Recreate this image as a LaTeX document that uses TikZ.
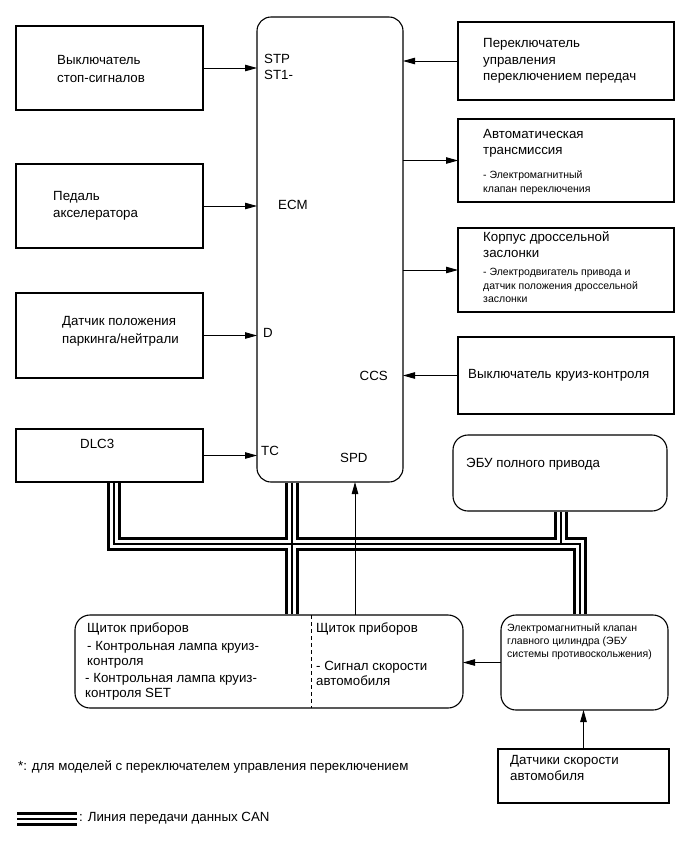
\documentclass[tikz,border=0pt]{standalone}
\usepackage{fontspec}
\setmainfont{Liberation Sans}
\usetikzlibrary{arrows.meta}
\newcommand\canpaths[1]{%
  \draw[#1] ([yshift=-0.6pt]dlc.south -| j1) -- (j1) -- (j4) -- ([yshift=0.6pt]j4 |- brake.north);
  \draw[#1] ([yshift=-0.6pt]ecm.south -| j2) -- ([yshift=0.6pt]j2 |- inst.north);
  \draw[#1] ([yshift=-0.6pt]ecu.south -| j3) -- (j3);
}
\tikzset{
  box/.style={draw, line width=1.1pt, inner sep=0pt, outer sep=0pt, anchor=north west},
  rbox/.style={box, rounded corners=15pt},
  txt/.style={inner sep=0pt, anchor=mid west, font=\fontsize{13.3}{16}\selectfont},
  stxt/.style={inner sep=0pt, anchor=mid west, font=\fontsize{10.5}{13}\selectfont},
  arr/.style={line width=0.9pt, -{Triangle[length=12pt,width=6.5pt]}},
  canblack/.style={line width=14pt, black, line join=miter},
  canwhite/.style={line width=7.5pt, white, line join=miter},
  canthin/.style={line width=1.2pt, black, line join=miter},
}
\begin{document}
\begin{tikzpicture}[x=1pt,y=-1pt]
\useasboundingbox (0,0) rectangle (690,855);
% boxes
\node[box, minimum width=187pt, minimum height=84pt] (n1) at (16,26) {};
\node[box, minimum width=187pt, minimum height=84pt] (n2) at (16,164) {};
\node[box, minimum width=187pt, minimum height=85pt] (n3) at (16,293) {};
\node[box, minimum width=187pt, minimum height=53pt] (dlc) at (16,429) {};
\node[box, rounded corners=14pt, minimum width=146pt, minimum height=465pt] (ecm) at (257,17) {};
\node[box, minimum width=216pt, minimum height=78pt] (ba) at (458,22) {};
\node[box, minimum width=216pt, minimum height=83pt] (bb) at (458,119) {};
\node[box, minimum width=216pt, minimum height=84pt] (bc) at (458,228) {};
\node[box, minimum width=216pt, minimum height=77pt] (bd) at (458,337) {};
\node[rbox, minimum width=214pt, minimum height=76pt] (ecu) at (453,435) {};
\node[rbox, minimum width=388pt, minimum height=93pt] (inst) at (75,615) {};
\node[rbox, minimum width=167pt, minimum height=95pt] (brake) at (501,615) {};
\node[box, minimum width=171pt, minimum height=54pt] (speed) at (498,749) {};
% coordinates
\coordinate (j1) at (114,544);
\coordinate (j2) at (292,544);
\coordinate (j3) at (561,544);
\coordinate (j4) at (580,544);
\coordinate (spdx) at (355,0);
\coordinate (divx) at (311,0);
\coordinate (lg1) at (17,819);
\coordinate (lg2) at (77,819);
% divider
\draw[line width=1pt, dash pattern=on 4pt off 3pt] (inst.north -| divx) -- (inst.south -| divx);
% CAN bus
\canpaths{canblack}
\canpaths{canwhite}
\canpaths{canthin}
\draw[canblack] (lg1) -- (lg2);
\draw[canwhite] (lg1) -- (lg2);
\draw[canthin] (lg1) -- (lg2);
% arrows
\draw[arr] (n1.east) -- (n1.east -| ecm.west);
\draw[arr] (n2.east) -- (n2.east -| ecm.west);
\draw[arr] (n3.east) -- (n3.east -| ecm.west);
\draw[arr] (dlc.east) -- (dlc.east -| ecm.west);
\draw[arr] (ba.west) -- (ba.west -| ecm.east);
\draw[arr] (bb.west -| ecm.east) -- (bb.west);
\draw[arr] (bc.west -| ecm.east) -- (bc.west);
\draw[arr] (bd.west) -- (bd.west -| ecm.east);
\draw[arr] (spdx |- inst.north) -- (spdx |- ecm.south);
\draw[arr] (brake.west) -- (brake.west -| inst.east);
\draw[arr] (speed.north) -- (speed.north |- brake.south);
% texts left
\node[txt] (t1a) at (57,62) {Выключатель};
\node[txt] (t1b) at (57,80) {стоп-сигналов};
\node[txt] (t2a) at (53,198) {Педаль};
\node[txt] (t2b) at (53,215) {акселератора};
\node[txt] (t3a) at (62,323) {Датчик положения};
\node[txt] (t3b) at (62,341) {паркинга/нейтрали};
\node[txt] (tdlc) at (80,446) {DLC3};
% ECM labels
\node[txt] (lstp) at (264,61) {STP};
\node[txt] (lst1) at (264,77) {ST1-};
\node[txt] (lecm) at (278,207) {ECM};
\node[txt] (ld) at (263,335) {D};
\node[txt] (ltc) at (261,453) {TC};
\node[txt] (lspd) at (340,460) {SPD};
\node[txt, anchor=mid east] (lccs) at (388,378) {CCS};
% right texts
\node[txt] (tAa) at (483,45) {Переключатель};
\node[txt] (tAb) at (483,62) {управления};
\node[txt] (tAc) at (483,78) {переключением передач};
\node[txt] (tBa) at (483,136) {Автоматическая};
\node[txt] (tBb) at (483,152) {трансмиссия};
\node[stxt] (tBc) at (483,176) {- Электромагнитный};
\node[stxt] (tBd) at (483,190) {клапан переключения};
\node[txt] (tCa) at (483,239) {Корпус дроссельной};
\node[txt] (tCb) at (483,255) {заслонки};
\node[stxt] (tCc) at (483,273) {- Электродвигатель привода и};
\node[stxt] (tCd) at (483,287) {датчик положения дроссельной};
\node[stxt] (tCe) at (483,300) {заслонки};
\node[txt] (tD) at (468,376) {Выключатель круиз-контроля};
\node[txt] (tecu) at (466,465) {ЭБУ полного привода};
% bottom boxes
\node[stxt] (tBra) at (507,629) {Электромагнитный клапан};
\node[stxt] (tBrb) at (507,642) {главного цилиндра (ЭБУ};
\node[stxt] (tBrc) at (507,655) {системы противоскольжения)};
\node[txt] (tIa) at (87,630) {Щиток приборов};
\node[txt] (tIb) at (87,648) {- Контрольная лампа круиз-};
\node[txt] (tIc) at (87,663) {контроля};
\node[txt] (tId) at (85,680) {- Контрольная лампа круиз-};
\node[txt] (tIe) at (85,695) {контроля SET};
\node[txt] (tIf) at (316,630) {Щиток приборов};
\node[txt] (tIg) at (316,668) {- Сигнал скорости};
\node[txt] (tIh) at (316,683) {автомобиля};
\node[txt] (tSa) at (510,762) {Датчики скорости};
\node[txt] (tSb) at (510,778) {автомобиля};
% footnote and legend
\node[txt] (foot) at (18,768) {*: для моделей с переключателем управления переключением};
\node[txt] (leg) at (79,819) {: Линия передачи данных CAN};
\end{tikzpicture}
\end{document}
